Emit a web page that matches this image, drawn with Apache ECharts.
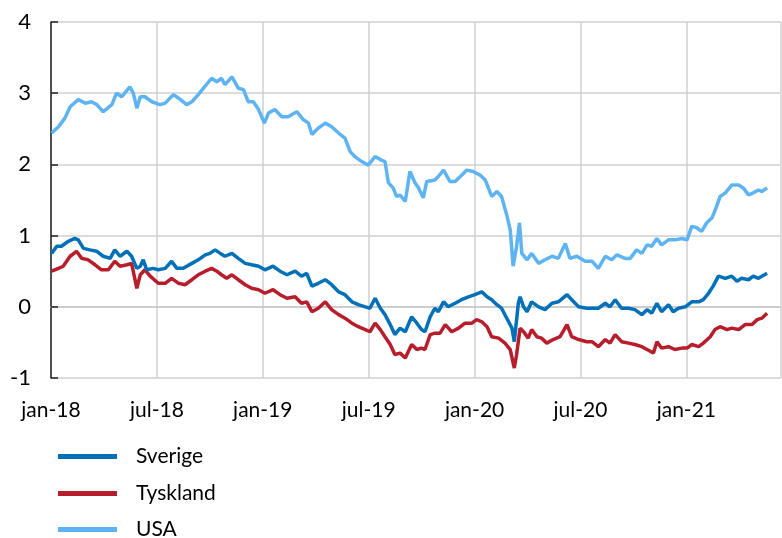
<!DOCTYPE html>
<html>
<head>
<meta charset="utf-8">
<script src="https://cdn.jsdelivr.net/npm/echarts@6/dist/echarts.min.js"></script>
<style>
  html, body { margin: 0; padding: 0; background: #fff; }
  #chart { width: 782px; height: 538px; }
</style>
</head>
<body>
<div id="chart"></div>
<script>
// x-värden: dagar sedan 2018-01-01
const tickLabels = ['jan-18', 'jul-18', 'jan-19', 'jul-19', 'jan-20', 'jul-20', 'jan-21'];
const seriesNames = ['Sverige', 'Tyskland', 'USA'];
const halfYear = 182.625;
const lastDay = 1259;

const sverigeDays = [1,10,18,30,41,47,56,67,79,90,102,110,119,131,139,148,154,159,165,176,185,197,208,217,228,243,254,266,274,283,292,300,312,323,335,346,358,369,383,395,407,421,432,441,450,461,473,484,496,507,519,530,542,550,559,568,576,585,593,602,611,622,631,639,645,654,662,668,677,685,697,708,720,731,743,752,760,769,777,786,795,799,806,809,815,821,829,841,852,864,875,890,898,910,924,933,944,956,964,973,984,996,1007,1019,1028,1036,1045,1053,1065,1073,1082,1094,1105,1117,1125,1134,1142,1151,1163,1174,1183,1191,1203,1211,1220,1235];
const sverigeVals = [0.75,0.85,0.85,0.92,0.96,0.94,0.82,0.80,0.78,0.71,0.68,0.80,0.71,0.78,0.71,0.54,0.57,0.66,0.52,0.54,0.52,0.54,0.64,0.54,0.54,0.61,0.66,0.73,0.75,0.80,0.75,0.71,0.75,0.68,0.61,0.59,0.57,0.52,0.57,0.50,0.45,0.50,0.43,0.47,0.29,0.33,0.38,0.31,0.21,0.17,0.07,0.03,0.00,-0.02,0.12,-0.02,-0.11,-0.25,-0.39,-0.30,-0.35,-0.14,-0.23,-0.32,-0.35,-0.14,-0.02,-0.07,0.07,0.00,0.05,0.10,0.14,0.17,0.21,0.14,0.10,0.03,-0.02,-0.16,-0.30,-0.49,0.05,0.14,0.00,-0.07,0.07,0.00,-0.04,0.05,0.07,0.17,0.10,0.00,-0.02,-0.02,-0.02,0.05,0.00,0.10,-0.02,-0.02,-0.04,-0.11,-0.04,-0.09,0.05,-0.07,0.03,-0.07,-0.02,0.00,0.07,0.07,0.10,0.19,0.29,0.43,0.40,0.43,0.36,0.40,0.38,0.43,0.40,0.47];

const tysklandDays = [1,13,21,33,44,53,64,76,87,99,110,119,131,139,148,154,162,171,185,197,208,220,231,243,254,266,277,286,294,303,312,323,335,346,358,369,383,395,407,421,432,441,450,461,473,484,496,507,519,530,542,550,559,568,576,585,593,602,611,622,631,639,645,654,662,671,680,691,703,714,726,734,743,752,760,772,783,792,799,803,809,815,823,829,838,846,855,866,878,890,898,910,924,933,944,956,964,973,984,996,1007,1019,1028,1039,1045,1053,1065,1076,1088,1097,1105,1117,1125,1137,1145,1154,1166,1174,1186,1197,1209,1218,1226,1235];
const tysklandVals = [0.50,0.54,0.57,0.71,0.78,0.68,0.66,0.59,0.52,0.52,0.64,0.57,0.59,0.61,0.26,0.45,0.52,0.43,0.33,0.33,0.40,0.33,0.31,0.38,0.45,0.50,0.54,0.50,0.45,0.40,0.45,0.38,0.31,0.26,0.24,0.19,0.24,0.17,0.12,0.14,0.05,0.07,-0.07,-0.02,0.07,-0.04,-0.11,-0.16,-0.23,-0.28,-0.32,-0.35,-0.23,-0.32,-0.42,-0.53,-0.67,-0.65,-0.72,-0.53,-0.60,-0.58,-0.60,-0.39,-0.37,-0.37,-0.25,-0.35,-0.30,-0.23,-0.23,-0.18,-0.21,-0.28,-0.42,-0.44,-0.51,-0.60,-0.86,-0.67,-0.30,-0.35,-0.44,-0.32,-0.42,-0.44,-0.51,-0.46,-0.42,-0.25,-0.42,-0.46,-0.49,-0.49,-0.56,-0.46,-0.51,-0.39,-0.49,-0.51,-0.53,-0.56,-0.60,-0.65,-0.49,-0.58,-0.56,-0.60,-0.58,-0.58,-0.53,-0.56,-0.51,-0.42,-0.32,-0.28,-0.32,-0.30,-0.32,-0.25,-0.25,-0.18,-0.16,-0.09];

const usaDays = [1,13,24,33,47,59,70,79,90,105,113,122,136,142,148,154,162,174,188,197,211,220,234,243,254,263,277,286,294,300,312,323,332,340,349,358,368,375,386,398,409,424,435,444,450,461,473,484,496,507,516,524,536,547,559,570,576,582,590,596,602,611,619,628,634,642,648,662,668,677,688,697,706,717,728,740,749,760,769,777,786,792,797,803,808,812,821,829,841,852,864,875,887,895,907,921,933,944,956,967,976,990,999,1010,1019,1028,1036,1045,1053,1065,1076,1088,1097,1105,1114,1122,1131,1140,1148,1154,1163,1174,1186,1194,1203,1211,1220,1226,1235];
const usaVals = [2.44,2.53,2.65,2.81,2.91,2.86,2.88,2.84,2.74,2.84,3.00,2.95,3.09,3.00,2.79,2.95,2.95,2.88,2.84,2.86,2.98,2.93,2.84,2.88,2.98,3.07,3.21,3.16,3.21,3.12,3.23,3.07,3.05,2.88,2.88,2.77,2.58,2.72,2.77,2.67,2.67,2.74,2.63,2.58,2.42,2.51,2.58,2.53,2.44,2.37,2.18,2.11,2.04,1.99,2.11,2.06,2.04,1.74,1.67,1.55,1.57,1.48,1.90,1.74,1.67,1.53,1.76,1.78,1.83,1.92,1.76,1.76,1.83,1.92,1.90,1.85,1.78,1.55,1.62,1.55,1.29,1.08,0.57,0.85,1.18,0.75,0.66,0.75,0.61,0.66,0.71,0.68,0.89,0.68,0.71,0.64,0.64,0.54,0.71,0.66,0.73,0.68,0.68,0.80,0.75,0.87,0.85,0.96,0.87,0.94,0.94,0.96,0.94,1.13,1.11,1.06,1.18,1.25,1.41,1.55,1.60,1.71,1.71,1.67,1.57,1.60,1.64,1.62,1.67];

const colors = ['#0070b8', '#b81d2c', '#5eb4f2'];
const fontFam = "Lato, 'DejaVu Sans Condensed', 'Liberation Sans', sans-serif";

function pairs(days, vals) {
  return days.map((d, i) => [d, vals[i]]);
}

function lineSeries(name, color, days, vals) {
  return {
    name: name,
    type: 'line',
    showSymbol: false,
    symbol: 'none',
    lineStyle: { color: color, width: 3.5 },
    itemStyle: { color: color },
    data: pairs(days, vals)
  };
}

// en legend per rad, så att de inte bryts till två kolumner
function legendRow(name, top) {
  return {
    orient: 'vertical',
    left: 53,
    top: top,
    icon: 'rect',
    itemWidth: 59,
    itemHeight: 5,
    textStyle: { color: '#000', fontSize: 21, fontFamily: fontFam, padding: [0, 0, 0, 14] },
    data: [name]
  };
}

const chart = echarts.init(document.getElementById('chart'));
chart.setOption({
  backgroundColor: '#ffffff',
  animation: false,
  grid: { left: 51, right: 1, top: 22, bottom: 160 },
  xAxis: {
    type: 'value',
    min: 0,
    max: lastDay,
    interval: halfYear,
    axisLine: { show: true, lineStyle: { color: '#c8c8c8', width: 1.5 } },
    axisTick: { show: false },
    splitLine: { show: true, lineStyle: { color: '#d0d0d0', width: 1.5 } },
    axisLabel: {
      showMaxLabel: false,
      margin: 22,
      color: '#000',
      fontSize: 21,
      fontFamily: fontFam,
      formatter: function (v) {
        const idx = Math.round(v / halfYear);
        if (Math.abs(v - idx * halfYear) > 1) return '';
        return tickLabels[idx] || '';
      }
    }
  },
  yAxis: {
    type: 'value',
    min: -1,
    max: 4,
    interval: 1,
    axisLine: { show: true, lineStyle: { color: '#222', width: 1.5 } },
    axisTick: { show: true, inside: true, length: 7, lineStyle: { color: '#222', width: 1.5 } },
    splitLine: { show: true, lineStyle: { color: '#d0d0d0', width: 1.5 } },
    axisLabel: { color: '#000', fontSize: 22, fontFamily: fontFam, margin: 20 }
  },
  legend: [
    legendRow(seriesNames[0], 441),
    legendRow(seriesNames[1], 478),
    legendRow(seriesNames[2], 514)
  ],
  series: [
    lineSeries(seriesNames[2], colors[2], usaDays, usaVals),
    lineSeries(seriesNames[1], colors[1], tysklandDays, tysklandVals),
    lineSeries(seriesNames[0], colors[0], sverigeDays, sverigeVals)
  ]
});
</script>
</body>
</html>
